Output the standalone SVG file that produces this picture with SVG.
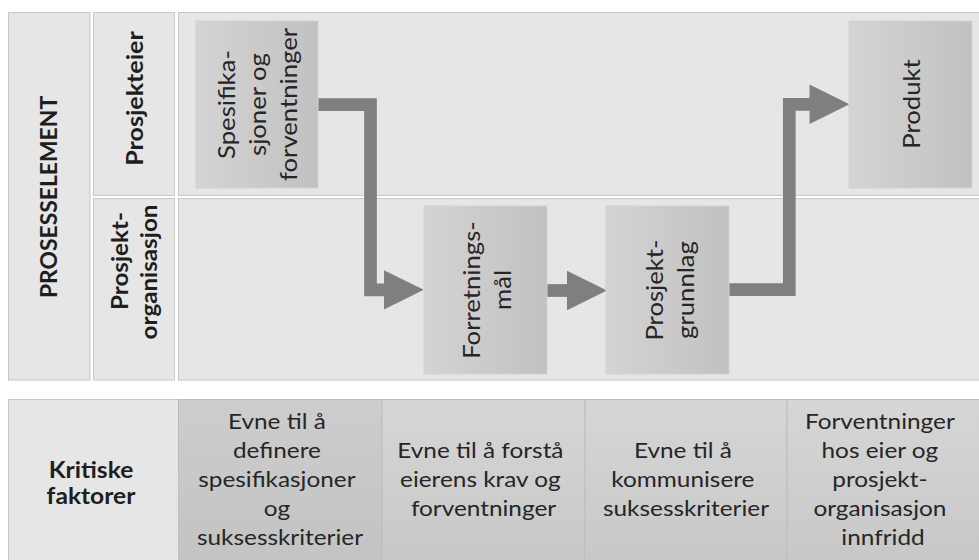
<svg xmlns="http://www.w3.org/2000/svg" width="979" height="560" viewBox="0 0 979 560">
  <defs>
    <linearGradient id="nodeFill" x1="0" y1="0" x2="1" y2="0">
      <stop offset="0" stop-color="#d4d4d4"/>
      <stop offset="1" stop-color="#c1c1c1"/>
    </linearGradient>
    <linearGradient id="factorFill" x1="0" y1="0" x2="0" y2="1">
      <stop offset="0" stop-color="#d6d6d6"/>
      <stop offset="1" stop-color="#c7c7c7"/>
    </linearGradient>
    <linearGradient id="factorFillDark" x1="0" y1="0" x2="0" y2="1">
      <stop offset="0" stop-color="#cdcdcd"/>
      <stop offset="1" stop-color="#c3c3c3"/>
    </linearGradient>
    <marker id="head" markerUnits="userSpaceOnUse" markerWidth="40" markerHeight="40" viewBox="0 0 39 38.5" refX="0.5" refY="19.25" orient="auto">
      <path d="M0,0 L39,19.25 L0,38.5 Z" fill="#7f7f7f"/>
    </marker>
  </defs>
  <style>
    .cell { fill: #e6e6e6; stroke: #c8c8c8; stroke-width: 1; }
    .node { fill: url(#nodeFill); stroke: #d2d2d2; stroke-width: 1; }
    .factor { fill: url(#factorFill); stroke: #bdbdbd; stroke-width: 1; }
    .dark { fill: url(#factorFillDark); }
    .label { font-family: Lato, "Open Sans", sans-serif; font-weight: bold; font-size: 22px; fill: #1e1e1e; text-anchor: middle; }
    .ntext { font-family: Lato, "Open Sans", sans-serif; font-size: 24px; fill: #262626; text-anchor: middle; }
    .ftext { font-family: Lato, "Open Sans", sans-serif; font-size: 21px; fill: #262626; text-anchor: middle; }
    .flow { fill: none; stroke: #7f7f7f; stroke-width: 12.7; stroke-linejoin: miter; marker-end: url(#head); }
  </style>

  <rect width="979" height="560" fill="#ffffff"/>

  <!-- swim lane frame -->
  <g id="lanes">
    <rect class="cell" x="8.5" y="12.5" width="81.5" height="367.5"/>
    <rect class="cell" x="93.5" y="12.5" width="81" height="183"/>
    <rect class="cell" x="93.5" y="198.5" width="81" height="181.5"/>
    <rect class="cell" x="178.5" y="12.5" width="802" height="183"/>
    <rect class="cell" x="178.5" y="198.5" width="802" height="181.5"/>
    <text class="label" transform="translate(56.5,197) rotate(-90) scale(1.04,1)">PROSESSELEMENT</text>
    <text class="label" transform="translate(143,98.5) rotate(-90) scale(1.14,1)">Prosjekteier</text>
    <text class="label" transform="translate(128,261) rotate(-90) scale(1.1,1)">Prosjekt-</text>
    <text class="label" transform="translate(157,272) rotate(-90) scale(1.1,1)">organisasjon</text>
  </g>

  <!-- flow arrows between the process elements -->
  <g id="connectors">
    <path class="flow" d="M317,104.7 H370.5 V289.8 H384.3"/>
    <path class="flow" d="M546,290.5 H567.5"/>
    <path class="flow" d="M729,289.7 H789.3 V104.3 H810"/>
  </g>

  <g id="node-spesifikasjoner">
    <rect class="node" x="196" y="21" width="122" height="167"/>
    <text class="ntext" transform="translate(234.5,104.5) rotate(-90) scale(1.07,1)">Spesifika-</text>
    <text class="ntext" transform="translate(265.5,104.5) rotate(-90) scale(1.07,1)">sjoner og</text>
    <text class="ntext" transform="translate(296.5,104.5) rotate(-90) scale(1.07,1)">forventninger</text>
  </g>

  <g id="node-forretningsmal">
    <rect class="node" x="424" y="206" width="123" height="168"/>
    <text class="ntext" transform="translate(480,290) rotate(-90) scale(1.07,1)">Forretnings-</text>
    <text class="ntext" transform="translate(511,290) rotate(-90) scale(1.07,1)">mål</text>
  </g>

  <g id="node-prosjektgrunnlag">
    <rect class="node" x="606" y="206" width="123" height="168"/>
    <text class="ntext" transform="translate(663,290) rotate(-90) scale(1.07,1)">Prosjekt-</text>
    <text class="ntext" transform="translate(694,290) rotate(-90) scale(1.07,1)">grunnlag</text>
  </g>

  <g id="node-produkt">
    <rect class="node" x="849" y="21" width="123" height="167"/>
    <text class="ntext" transform="translate(920,104) rotate(-90) scale(1.07,1)">Produkt</text>
  </g>

  <!-- critical factors row -->
  <g id="factors">
    <rect class="cell" x="8.5" y="399.5" width="170" height="170"/>
    <text class="label" transform="translate(91,0) scale(1.12,1)"><tspan x="0" y="478.5">Kritiske</tspan><tspan x="0" y="504">faktorer</tspan></text>

    <rect class="factor dark" x="178.5" y="399.5" width="203.5" height="170"/>
    <text class="ftext" transform="translate(280,0) scale(1.16,1)">
      <tspan x="0" y="429">Evne til å</tspan>
      <tspan x="0" y="458">definere</tspan>
      <tspan x="0" y="487">spesifikasjoner</tspan>
      <tspan x="0" y="516">og</tspan>
      <tspan x="0" y="545">suksesskriterier</tspan>
    </text>

    <rect class="factor" x="382" y="399.5" width="203" height="170"/>
    <text class="ftext" transform="translate(483.5,0) scale(1.16,1)">
      <tspan x="0" y="458">Evne til å forstå</tspan>
      <tspan x="0" y="487">eierens krav og</tspan>
      <tspan x="0" y="516">forventninger</tspan>
    </text>

    <rect class="factor" x="585" y="399.5" width="202" height="170"/>
    <text class="ftext" transform="translate(686,0) scale(1.16,1)">
      <tspan x="0" y="458">Evne til å</tspan>
      <tspan x="0" y="487">kommunisere</tspan>
      <tspan x="0" y="516">suksesskriterier</tspan>
    </text>

    <rect class="factor" x="787" y="399.5" width="194" height="170"/>
    <text class="ftext" transform="translate(883,0) scale(1.16,1)">
      <tspan x="0" y="429">Forventninger</tspan>
      <tspan x="0" y="458">hos eier og</tspan>
      <tspan x="0" y="487">prosjekt-</tspan>
      <tspan x="0" y="516">organisasjon</tspan>
      <tspan x="0" y="545">innfridd</tspan>
    </text>
  </g>
</svg>
